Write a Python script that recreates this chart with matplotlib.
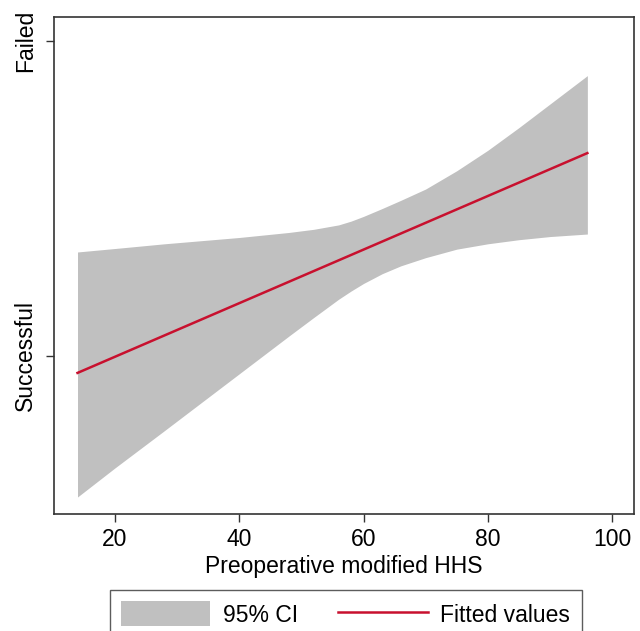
import matplotlib
matplotlib.use("Agg")
import matplotlib.pyplot as plt
from matplotlib.patches import Patch
from matplotlib.lines import Line2D

plt.rcParams['font.family'] = ['Liberation Sans', 'DejaVu Sans']

# Data
ci_x = [14, 20, 28, 34, 40, 48, 52, 56, 58, 60, 63, 66, 70, 75, 80, 85, 90, 96]
ci_upper = [0.330, 0.341, 0.356, 0.366, 0.376, 0.392, 0.402, 0.416, 0.428, 0.443, 0.468,
            0.494, 0.530, 0.588, 0.653, 0.725, 0.800, 0.890]
ci_lower = [-0.448, -0.356, -0.237, -0.147, -0.057, 0.063, 0.122, 0.180, 0.206, 0.230, 0.261,
            0.286, 0.312, 0.339, 0.356, 0.369, 0.379, 0.387]
fit_x = [14, 96]
fit_y = [-0.054, 0.644]

y_ticks = [0, 1]
y_ticklabels = ["Successful", "Failed"]
x_ticks = [20, 40, 60, 80, 100]

fig = plt.figure(figsize=(6.4, 6.31), dpi=100)
ax = fig.add_axes([0.084, 0.1854, 0.907, 0.7876])

ci_color = '#c0c0c0'
fit_color = '#c8102e'
ax.fill_between(ci_x, ci_lower, ci_upper, color=ci_color, linewidth=0)
ax.plot(fit_x, fit_y, color=fit_color, linewidth=1.8)

ax.set_xlim(10.18, 103.54)
ax.set_ylim(-0.502, 1.076)
ax.set_xticks(x_ticks)
ax.set_yticks(y_ticks)
ax.set_yticklabels(y_ticklabels, rotation=90, va='center')
ax.tick_params(axis='both', direction='out', length=6, width=1.0, colors='#333333',
               labelcolor='black', labelsize=16.5, pad=4)
ax.tick_params(axis='y', pad=6)
for s in ax.spines.values():
    s.set_color('#333333')
    s.set_linewidth(1.2)
ax.set_xlabel("Preoperative modified HHS", fontsize=16.5, labelpad=3)

handles = [Patch(facecolor=ci_color, edgecolor='none'),
           Line2D([0], [0], color=fit_color, linewidth=1.8)]
leg = fig.legend(handles, ["95% CI", "Fitted values"], loc='upper center',
                 bbox_to_anchor=(0.54, 0.065), ncol=2, fontsize=16.5, frameon=True,
                 fancybox=False, edgecolor='#333333', handlelength=3.9,
                 handleheight=1.3, handletextpad=0.55, columnspacing=1.75,
                 borderpad=0.5, borderaxespad=0)
leg.get_frame().set_linewidth(1.0)

fig.savefig("out.png", dpi=100)
